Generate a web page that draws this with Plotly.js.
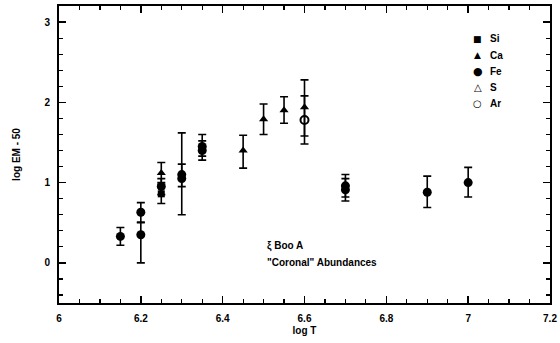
<!DOCTYPE html>
<html><head><meta charset="utf-8">
<script src="https://cdn.plot.ly/plotly-3.0.1.min.js"></script>
<style>body{margin:0;background:#fff}#g{width:560px;height:343px}</style>
</head><body><div id="g"></div>
<script>
// Si
const siT = [6.25];
const siEM = [0.86];
const siUp = [0.12];
const siDn = [0.12];
// Ca
const caT = [6.25, 6.45, 6.50, 6.55, 6.60];
const caEM = [1.12, 1.40, 1.79, 1.90, 1.94];
const caUp = [0.13, 0.19, 0.19, 0.17, 0.34];
const caDn = [0.12, 0.22, 0.19, 0.16, 0.36];
// Fe
const feT = [6.15, 6.20, 6.20, 6.25, 6.30, 6.30, 6.35, 6.35, 6.70, 6.70, 6.90, 7.00];
const feEM = [0.33, 0.63, 0.35, 0.95, 1.10, 1.05, 1.45, 1.40, 0.96, 0.91, 0.88, 1.00];
const feUp = [0.11, 0.12, 0.15, 0.10, 0.52, 0.18, 0.15, 0.12, 0.14, 0.14, 0.20, 0.19];
const feDn = [0.11, 0.12, 0.35, 0.10, 0.50, 0.10, 0.12, 0.12, 0.14, 0.14, 0.19, 0.18];
// Ar
const arT = [6.60];
const arEM = [1.78];
const arUp = [0.30];
const arDn = [0.30];

const names = ['Si', 'Ca', 'Fe', 'S', 'Ar'];
const legendGlyphs = ['■', '▲', '●', '△', '○'];
const xTicks = [6, 6.2, 6.4, 6.6, 6.8, 7, 7.2];
const xTickText = ['6', '6.2', '6.4', '6.6', '6.8', '7', '7.2'];
const yTicks = [0, 1, 2, 3];

function err(up, dn) {
  return {type: 'data', symmetric: false, array: up, arrayminus: dn,
          color: '#000', thickness: 1.6, width: 4};
}
const traces = [
  {x: siT, y: siEM, name: names[0], mode: 'markers', type: 'scatter',
   marker: {symbol: 'square', size: 7, color: '#000'}, error_y: err(siUp, siDn)},
  {x: caT, y: caEM, name: names[1], mode: 'markers', type: 'scatter',
   marker: {symbol: 'triangle-up', size: 8, color: '#000'}, error_y: err(caUp, caDn)},
  {x: feT, y: feEM, name: names[2], mode: 'markers', type: 'scatter',
   marker: {symbol: 'circle', size: 9, color: '#000'}, error_y: err(feUp, feDn)},
  {x: arT, y: arEM, name: names[4], mode: 'markers', type: 'scatter',
   marker: {symbol: 'circle-open', size: 8, color: '#000', line: {width: 2, color: '#000'}}, error_y: err(arUp, arDn)}
];

const fam = 'Liberation Sans, Arial, sans-serif';
const fnt = {family: fam, size: 10, color: '#000', weight: 'bold'};

const annotations = [
  {xref: 'paper', yref: 'paper', x: 0.42, y: 0.193, xanchor: 'left', yanchor: 'middle',
   text: 'ξ Boo A', showarrow: false, font: fnt},
  {xref: 'paper', yref: 'paper', x: 0.42, y: 0.135, xanchor: 'left', yanchor: 'middle',
   text: '"Coronal" Abundances', showarrow: false, font: fnt}
];
const glyphSizes = [9, 9, 11, 10, 10];
const legY0 = 0.889, legDy = 0.054;
names.forEach((n, i) => {
  annotations.push({xref: 'paper', yref: 'paper', x: 0.853, y: legY0 - i * legDy,
    xanchor: 'center', yanchor: 'middle', text: '<b>' + legendGlyphs[i] + '</b>', showarrow: false,
    font: {family: 'DejaVu Sans', size: glyphSizes[i], color: 'rgb(0,0,0)'}});
  annotations.push({xref: 'paper', yref: 'paper', x: 0.874, y: legY0 - i * legDy,
    xanchor: 'left', yanchor: 'middle', text: n, showarrow: false, font: fnt});
});

const layout = {
  width: 560, height: 343,
  margin: {l: 59, r: 10, t: 6, b: 40},
  paper_bgcolor: '#fff', plot_bgcolor: '#fff',
  font: fnt,
  showlegend: false,
  xaxis: {range: [6, 7.2], tickvals: xTicks, ticktext: xTickText, ticks: 'inside', ticklen: 7,
          tickwidth: 1.5, tickcolor: '#000', showline: true, linewidth: 2, linecolor: '#000',
          mirror: 'ticks', showgrid: false, zeroline: false, ticklabelstandoff: 5,
          minor: {dtick: 0.05, ticks: 'inside', ticklen: 4, tickwidth: 1.2, tickcolor: '#000', showgrid: false},
          title: {text: 'log T', font: fnt, standoff: 4},
          tickfont: fnt},
  yaxis: {range: [-0.5, 3.2], tickvals: yTicks, ticks: 'inside', ticklen: 7,
          tickwidth: 1.5, tickcolor: '#000', showline: true, linewidth: 2, linecolor: '#000',
          mirror: 'ticks', showgrid: false, zeroline: false, ticklabelstandoff: 5,
          minor: {dtick: 0.2, ticks: 'inside', ticklen: 4, tickwidth: 1.2, tickcolor: '#000', showgrid: false},
          title: {text: 'log EM - 50', font: fnt, standoff: 22},
          tickfont: fnt},
  annotations: annotations
};
Plotly.newPlot('g', traces, layout, {displayModeBar: false, staticPlot: true});
</script></body></html>
